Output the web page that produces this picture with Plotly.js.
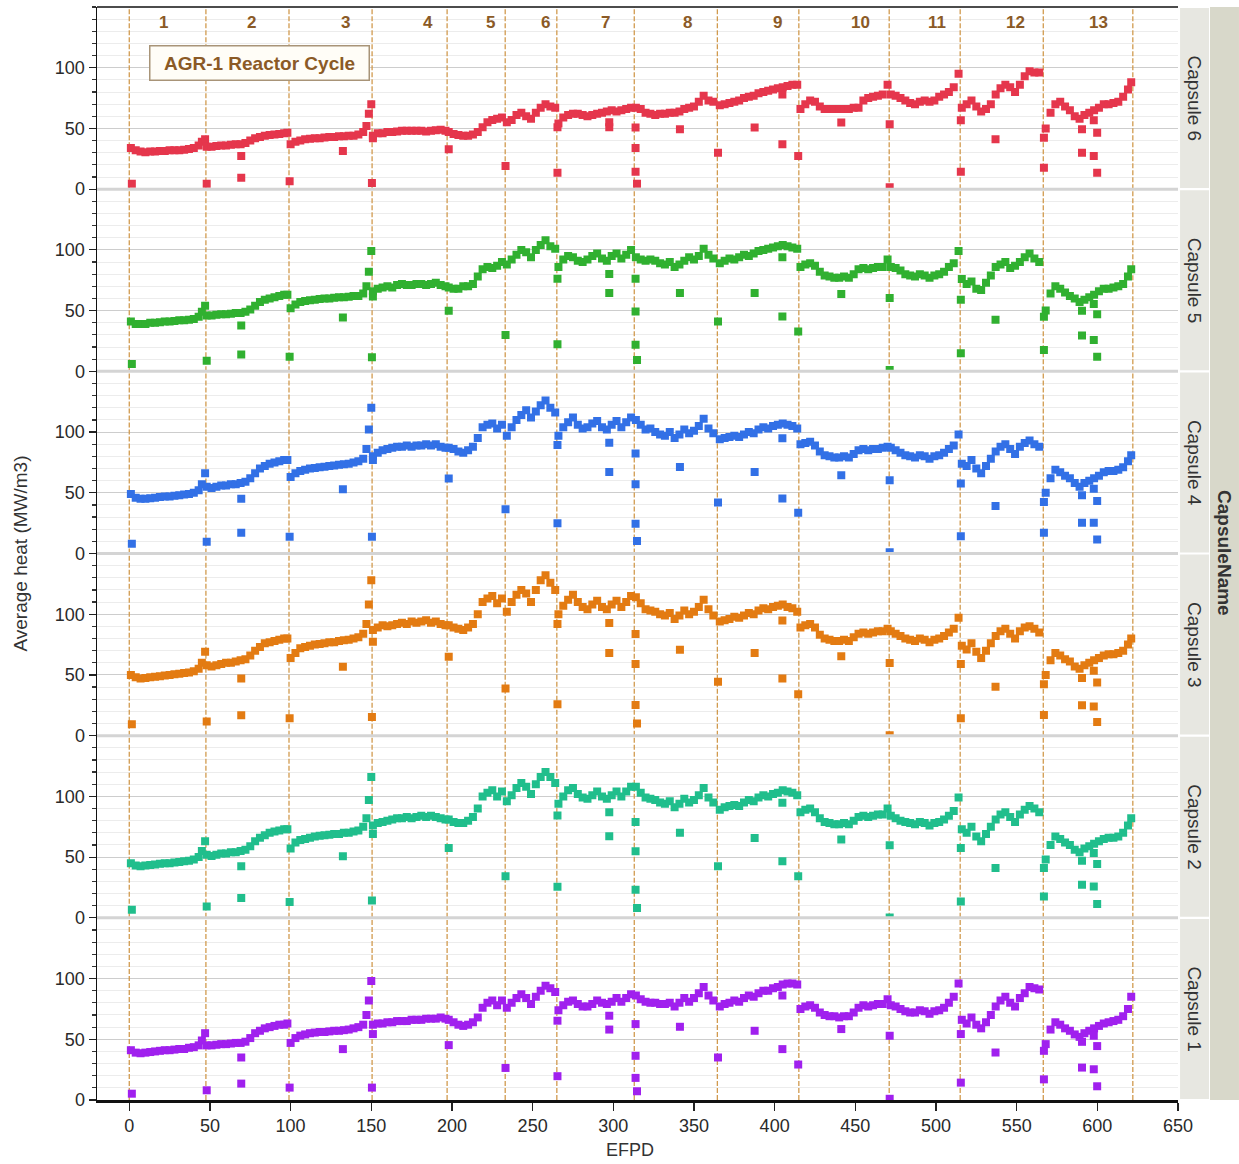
<!DOCTYPE html>
<html>
<head>
<meta charset="utf-8">
<script src="https://cdn.plot.ly/plotly-3.0.1.min.js"></script>
<style>html,body{margin:0;padding:0;background:#fff;}#chart{width:1239px;height:1164px;}</style>
</head>
<body>
<div id="chart"></div>
<script>
// ---------------- DATA ----------------
const efpd = [
 1,4,7,10,13,16,19,22,25,28,31,34,37,40,43,45,47,
 48,51,54,57,60,63,66,69,72,75,78,81,84,87,90,93,96,98,
 100,103,106,109,112,115,118,121,124,127,130,133,136,139,142,145,147,148.5,150,
 151,154,157,160,163,166,169,172,175,178,181,184,187,190,193,196,
 198,201,204,207,210,213,216,219,222,225,228,231,
 234,237,240,243,246,249,252,255,258,261,264,
 266,269,272,275,278,281,284,287,290,293,296,299,302,305,308,311,
 314,317,320,323,326,329,332,335,338,341,344,347,350,353,356,359,362,
 366,369,372,375,378,381,384,387,390,393,396,399,402,405,408,411,414,
 416,419,422,425,428,431,434,437,440,443,446,449,452,455,458,461,464,467,470,
 472,475,478,481,484,487,490,493,496,499,502,505,508,511,514,
 516,519,522,525,528,531,534,537,540,543,546,549,552,555,558,561,564,
 568,571,574,577,580,583,586,589,592,595,598,601,604,607,610,613,616,619,621
];

const capsule6Heat = [
 34,32,31,30.5,31,31,31.5,31.5,32,32,32,32.5,33,34,36,39,41,
 35,35,35.5,36,36,36.5,37,37,38,40,42,43,44,44.5,45,45.5,46,46.5,
 37,39,40,41,41.5,42,42,42.5,43,43,43.5,43.5,44,44,45,47,52,62,70,
 44,46,46,47,47,47.5,48,48,48,48,48,47.5,48,48.5,49,48,
 47,45.5,44.5,44,44,45,47,51,55,57,58,59,
 55,57,61,63,60,58,63,67,70,68,67,
 54,59,61,62,62,61,60,61,62,63,64,65,64,65,66,67,
 67,66,63,62,61,62,62,63,63,64,66,67,68,72,77,73,72,
 69,70,71,72,73,75,76,77,79,80,81,82,83,84,85,86,86,
 66,70,73,72,68,66,66,66,66,66,66,67,67,73,75,76,77,78,86,
 78,77,75,73,71,70,72,73,72,73,76,78,80,84,95,
 67,70,73,68,64,66,70,78,83,86,84,80,86,93,97,96,96,
 50,63,70,72,68,65,60,58,61,63,65,67,70,70,71,72,76,82,88
];
const capsule5Heat = [
 41,39,39,39,40,40,40.5,41,41,41.5,42,42,42.5,43,45,49,54,
 46,46,46.5,47,47,47.5,48,48,49,51,54,57,59,60,61,62,63,63,
 52,55,57,58,58.5,59,59.5,60,60,60.5,61,61,61.5,62,62,64,70,82,99,
 66,68,69,70,69,71,72,71,71,72,72,71,72,73,71,70,
 69,68,68,70,70,72,78,84,86,85,87,90,
 88,92,96,100,98,94,100,104,108,103,101,
 86,92,95,94,91,90,92,95,97,93,91,95,97,93,96,100,
 94,92,91,92,91,89,88,90,86,88,91,94,92,95,101,96,93,
 89,91,93,92,94,96,95,97,99,100,101,102,103,104,103,102,101,
 86,88,89,87,82,79,78,77,77,78,77,80,84,85,84,85,86,86,92,
 86,85,83,80,79,78,80,79,77,79,80,82,86,89,99,
 76,72,74,68,67,73,79,86,88,90,85,87,90,94,97,93,90,
 50,64,70,68,65,62,60,57,59,61,63,66,68,68,69,70,72,78,84
];
const capsule4Heat = [
 49,46,45,45,45.5,46,46.5,47,47,47.5,48,48.5,49,50,52,57,66,
 55,54,55,56,56,57,57,58,59,62,66,70,72,74,75,76,77,77,
 63,66,68,69,70,70.5,71,71.5,72,72.5,73,73.5,74,75,76,78,86,102,120,
 80,83,85,86,87,88,88,89,88,89,89,90,89,90,88,87,
 87,86,84,83,85,88,95,104,106,107,103,106,
 97,104,110,114,118,112,117,122,126,120,116,
 97,104,108,112,106,103,104,107,109,104,102,106,109,104,108,112,
 110,106,102,103,100,98,97,100,95,98,102,99,101,105,111,103,99,
 94,95,96,97,96,98,100,99,102,104,103,105,106,107,106,105,103,
 90,91,92,89,84,81,80,79,79,80,79,82,85,86,85,86,86,87,88,
 87,85,83,81,80,79,81,80,78,80,81,83,86,89,98,
 74,72,77,70,66,72,78,84,88,90,86,82,88,91,93,90,88,
 50,62,69,67,64,62,58,55,58,60,62,64,67,68,68,69,71,76,81
];
const capsule3Heat = [
 50,48,47,47.5,48,48.5,49,49.5,50,50.5,51,51.5,52,53,55,60,69,
 58,57,58,59,60,60,61,62,63,66,70,73,76,77,78,79,80,80,
 64,68,72,73,74,75,75.5,76,77,77,78,78.5,79,80,81,84,92,108,128,
 87,89,91,90,91,92,93,92,94,93,94,95,93,94,92,91,
 91,89,88,87,89,92,100,110,113,115,109,113,
 102,110,116,120,117,110,120,128,132,126,120,
 100,107,112,116,110,106,104,108,111,106,104,108,111,106,110,115,
 114,109,104,103,102,100,99,101,96,99,103,100,102,106,112,104,99,
 94,95,96,98,97,99,101,100,103,105,104,106,107,108,106,105,102,
 89,91,92,89,83,80,79,78,78,79,78,81,84,85,84,85,86,86,88,
 86,84,82,80,79,78,80,79,77,79,80,82,85,88,97,
 74,71,76,69,64,70,76,82,86,88,84,80,86,89,90,88,85,
 50,62,68,66,63,61,57,55,58,60,62,64,66,67,67,68,70,75,80
];
const capsule2Heat = [
 45,43,42.5,43,43.5,44,44.5,45,45,45.5,46,46.5,47,48,50,55,63,
 52,51,52,53,53,54,54,55,56,59,63,66,68,70,71,72,73,73,
 57,62,64,65,66,67,67.5,68,68.5,69,69,70,70,71,72,75,82,97,116,
 76,78,79,80,81,82,82,83,82,83,84,83,84,83,82,81,
 81,79,78,78,80,83,90,100,103,105,100,104,
 96,101,107,111,108,102,110,116,120,116,111,
 94,100,105,107,102,99,98,101,104,100,98,101,104,100,104,108,
 108,103,99,98,97,95,94,96,91,94,98,95,97,101,107,99,95,
 89,91,92,93,92,95,97,96,99,101,100,102,103,105,104,103,101,
 87,89,90,87,82,79,78,77,77,78,77,80,83,84,83,84,85,85,90,
 84,82,80,79,78,77,79,78,76,78,79,81,84,88,99,
 73,70,75,67,63,69,75,81,85,87,83,79,85,89,92,90,87,
 48,60,67,65,62,60,56,54,57,59,61,63,65,66,66,67,70,76,82
];
const capsule1Heat = [
 41,39,38.5,39,39.5,40,40.5,41,41,41.5,42,42,43,43.5,45,49,55,
 45,45,45.5,46,46,46.5,47,47,48,51,55,57,59,60,61,62,62,63,
 47,51,53,54,55,55.5,56,56,56.5,57,57,57.5,58,59,60,62,70,82,98,
 62,63,63,64,64,65,65,65,66,66,66,67,67,67,68,67,
 66,64,62,61,62,64,68,76,80,82,78,82,
 76,80,84,87,84,79,85,90,94,92,89,
 74,78,81,82,79,77,77,79,82,80,79,81,84,81,84,87,
 86,83,81,80,80,79,79,80,77,80,84,81,84,88,93,86,82,
 77,79,80,82,81,84,86,85,88,90,90,92,93,95,96,96,95,
 75,77,78,76,72,70,69,69,68,69,69,72,76,78,77,78,79,79,83,
 78,77,75,73,72,72,74,73,71,73,74,76,80,85,96,
 66,63,68,62,59,64,70,77,82,85,80,77,84,88,93,92,91,
 46,58,64,62,59,57,54,52,55,57,59,61,63,64,65,66,69,75,85
];

// isolated low readings (shutdown / startup days)
const outlierEfpd = [1.6,48,69.4,69.4,99.4,132.4,150.4,151,198,233.2,265.4,265.4,297.5,297.5,313.8,313.8,313.8,314.7,341.3,364.9,387.6,404.8,404.8,414.6,441.3,471.3,471.3,515.4,515.4,536.9,566.9,566.9,590.5,590.5,597.8,597.8,599.9,599.9];
const capsule6Outliers = [4.4,4.4,27.3,9.3,6.6,31.4,5,42,32.8,19,51,13.5,55,51,50.7,34,14.3,4.4,49.3,30,50.7,78,36.9,27.3,54.8,53.4,1.6,56.7,14.3,41,42.4,17.6,49.3,30,56.7,27.3,46.5,13.5];
const capsule5Outliers = [6.1,8.8,37.7,13.8,12.1,44.4,11.6,61.7,49.9,30,76.3,22.3,80.2,64.5,76.3,49.3,21.8,9.4,64.5,41,64.5,94,45.2,32.8,63.6,60.3,1,59,14.9,42.4,45,17.6,49.9,29.5,55.4,25.9,47.1,12.1];
const capsule4Outliers = [8,9.6,45,17,13.8,52.9,13.8,77,61.7,36.4,89.3,25,91.2,67.2,82.4,57,24.5,10.2,71.3,41.9,67.2,94.8,45.2,33.6,64.5,60.3,1,57.6,14.3,39.1,42.4,17,47.9,25.3,53.4,25.3,43.3,11.6];
const capsule3Outliers = [9.4,11.6,47.1,16.8,14.3,56.7,15.4,77.4,65,38.8,92,25.9,92.8,68,83.7,59,25.3,10,70.8,44.4,68,94.8,47.1,34.2,65.3,59.8,0.3,59,14.3,40.2,42.4,17,47.4,25,53.4,24,43.8,11.3];
const capsule2Outliers = [6.6,9.4,42.4,16.3,13,50.7,14.3,69,57.6,34.2,84.3,25.6,87,67.2,79,54.8,23.1,8,70,42.4,65.8,94.8,46.6,34.2,64.5,59.8,0.3,57.6,13.5,41,41,17.6,47,27.3,53.4,25.9,44.4,11.3];
const capsule1Outliers = [5.2,8,35,13.5,10.2,41.9,10.2,54.3,45.2,26.4,65.3,19.6,69.4,58,62.5,36.4,18.2,7.2,60.3,35,57,86,41.9,29.2,58.4,52.9,1,54.3,14.3,39.1,40.5,17,47.9,26.7,52.9,25.3,44.4,11.3];

const cycleBoundaries = [0,47.5,99,150.5,197,233,265,313,364.5,415,471,515,566.5,622];
const cycleNames = ['1','2','3','4','5','6','7','8','9','10','11','12','13'];
const cycleLabelEfpd = [21,76,134,185,224,258,295,346,401.5,453,500.7,549,600.5];
const capsuleNames = ['Capsule 1','Capsule 2','Capsule 3','Capsule 4','Capsule 5','Capsule 6'];
const xTicks = [0,50,100,150,200,250,300,350,400,450,500,550,600,650];
const yTicks = [0,50,100];

// ---------------- STYLE ----------------
const heatSeries = [capsule1Heat,capsule2Heat,capsule3Heat,capsule4Heat,capsule5Heat,capsule6Heat];
const outlierSeries = [capsule1Outliers,capsule2Outliers,capsule3Outliers,capsule4Outliers,capsule5Outliers,capsule6Outliers];
const colors = ['#a020ee','#20be8c','#e37b12','#3270e6','#30b030','#e5364c'];
const FONT = 'Liberation Sans, Arial, sans-serif';
const brown = '#8b5a26';

const traces = [];
for (let i = 0; i < 6; i++) {
  const yref = i === 0 ? 'y' : 'y' + (i + 1);
  traces.push({
    type: 'scatter', mode: 'markers',
    x: efpd.concat(outlierEfpd),
    y: heatSeries[i].concat(outlierSeries[i]),
    xaxis: 'x', yaxis: yref,
    name: capsuleNames[i],
    marker: {symbol: 'square', size: 8, color: colors[i], line: {width: 0}},
    hoverinfo: 'x+y', showlegend: false
  });
}

const layout = {
  width: 1239, height: 1164,
  margin: {l: 97, r: 61, t: 7, b: 64},
  paper_bgcolor: '#ffffff', plot_bgcolor: '#ffffff',
  font: {family: FONT, size: 17, color: '#333'},
  showlegend: false,
  xaxis: {
    domain: [0, 1], range: [-20, 650], anchor: 'y',
    tickmode: 'array', tickvals: xTicks,
    ticks: 'outside', ticklen: 8, tickwidth: 1.5, tickcolor: '#222',
    showline: true, linecolor: '#111', linewidth: 2.5,
    showgrid: false, zeroline: false,
    tickfont: {family: FONT, size: 18, color: '#2a2a2a'}
  },
  shapes: [], annotations: []
};

for (let i = 0; i < 6; i++) {
  const key = i === 0 ? 'yaxis' : 'yaxis' + (i + 1);
  layout[key] = {
    domain: [i / 6, (i + 1) / 6], range: [0, 150], anchor: 'x',
    tickmode: 'array', tickvals: yTicks,
    ticks: 'outside', ticklen: 7, tickwidth: 1.2, tickcolor: '#222',
    showline: true, linecolor: '#111', linewidth: 1.5,
    showgrid: true, gridcolor: '#cdcdcd', gridwidth: 1,
    zeroline: false,
    minor: {dtick: 10, tick0: 0, ticks: 'outside', ticklen: 4, tickcolor: '#333', showgrid: true, gridcolor: '#ececec', gridwidth: 1},
    tickfont: {family: FONT, size: 18, color: '#2a2a2a'}
  };
  const yref = i === 0 ? 'y' : 'y' + (i + 1);
  cycleBoundaries.forEach(b => {
    layout.shapes.push({type: 'line', xref: 'x', yref: yref, x0: b, x1: b, y0: 0, y1: 150,
      line: {color: '#d19a4e', width: 1.3, dash: '5px,2px'}, layer: 'between'});
  });
  layout.shapes.push({type: 'rect', xref: 'paper', yref: 'paper', x0: 1.0019, x1: 1.0287,
    y0: i / 6 + 0.001, y1: (i + 1) / 6 - 0.001, fillcolor: '#e7e7e1', line: {width: 0}, layer: 'above'});
  layout.annotations.push({xref: 'paper', yref: 'paper', x: 1.0153, y: (i + 0.5) / 6,
    xanchor: 'center', yanchor: 'middle',
    text: capsuleNames[i], textangle: 90, showarrow: false,
    font: {family: FONT, size: 19, color: '#333'}});
  if (i > 0) {
    layout.shapes.push({type: 'line', xref: 'paper', yref: 'paper', x0: 0, x1: 1, y0: i / 6, y1: i / 6,
      line: {color: '#d4d4d4', width: 3}, layer: 'above'});
  }
}
layout.shapes.push({type: 'rect', xref: 'paper', yref: 'paper', x0: 1.0296, x1: 1.0564, y0: 0, y1: 1,
  fillcolor: '#d8d8ca', line: {width: 0}, layer: 'above'});
layout.shapes.push({type: 'line', xref: 'paper', yref: 'paper', x0: 0, x1: 1, y0: 1, y1: 1,
  line: {color: '#111', width: 1.5}, layer: 'above'});

layout.annotations.push({xref: 'paper', yref: 'paper', x: 1.0430, y: 0.5, xanchor: 'center', yanchor: 'middle',
  text: '<b>CapsuleName</b>', textangle: 90, showarrow: false, font: {family: FONT, size: 19, color: '#333'}});

cycleNames.forEach((n, k) => {
  layout.annotations.push({xref: 'x', yref: 'y6', x: cycleLabelEfpd[k], y: 137, text: '<b>' + n + '</b>',
    showarrow: false, font: {family: FONT, size: 17, color: brown}});
});
layout.annotations.push({xref: 'x', yref: 'y6', x: 81, y: 104, text: '<b>AGR-1 Reactor Cycle</b>',
  showarrow: false, font: {family: FONT, size: 19, color: brown},
  bgcolor: '#fffdf7', bordercolor: '#a89478', borderwidth: 1.5, borderpad: 4, width: 210, height: 25});

layout.annotations.push({xref: 'paper', yref: 'paper', x: -0.0712, y: 0.5, xanchor: 'center', yanchor: 'middle',
  text: 'Average heat (MW/m3)', textangle: -90, showarrow: false, font: {family: FONT, size: 19, color: '#333'}});
layout.annotations.push({xref: 'paper', yref: 'paper', x: 0.4935, y: -0.0455, xanchor: 'center', yanchor: 'middle',
  text: 'EFPD', showarrow: false, font: {family: FONT, size: 18, color: '#333'}});

Plotly.newPlot('chart', traces, layout, {staticPlot: true, displayModeBar: false});
</script>
</body>
</html>
